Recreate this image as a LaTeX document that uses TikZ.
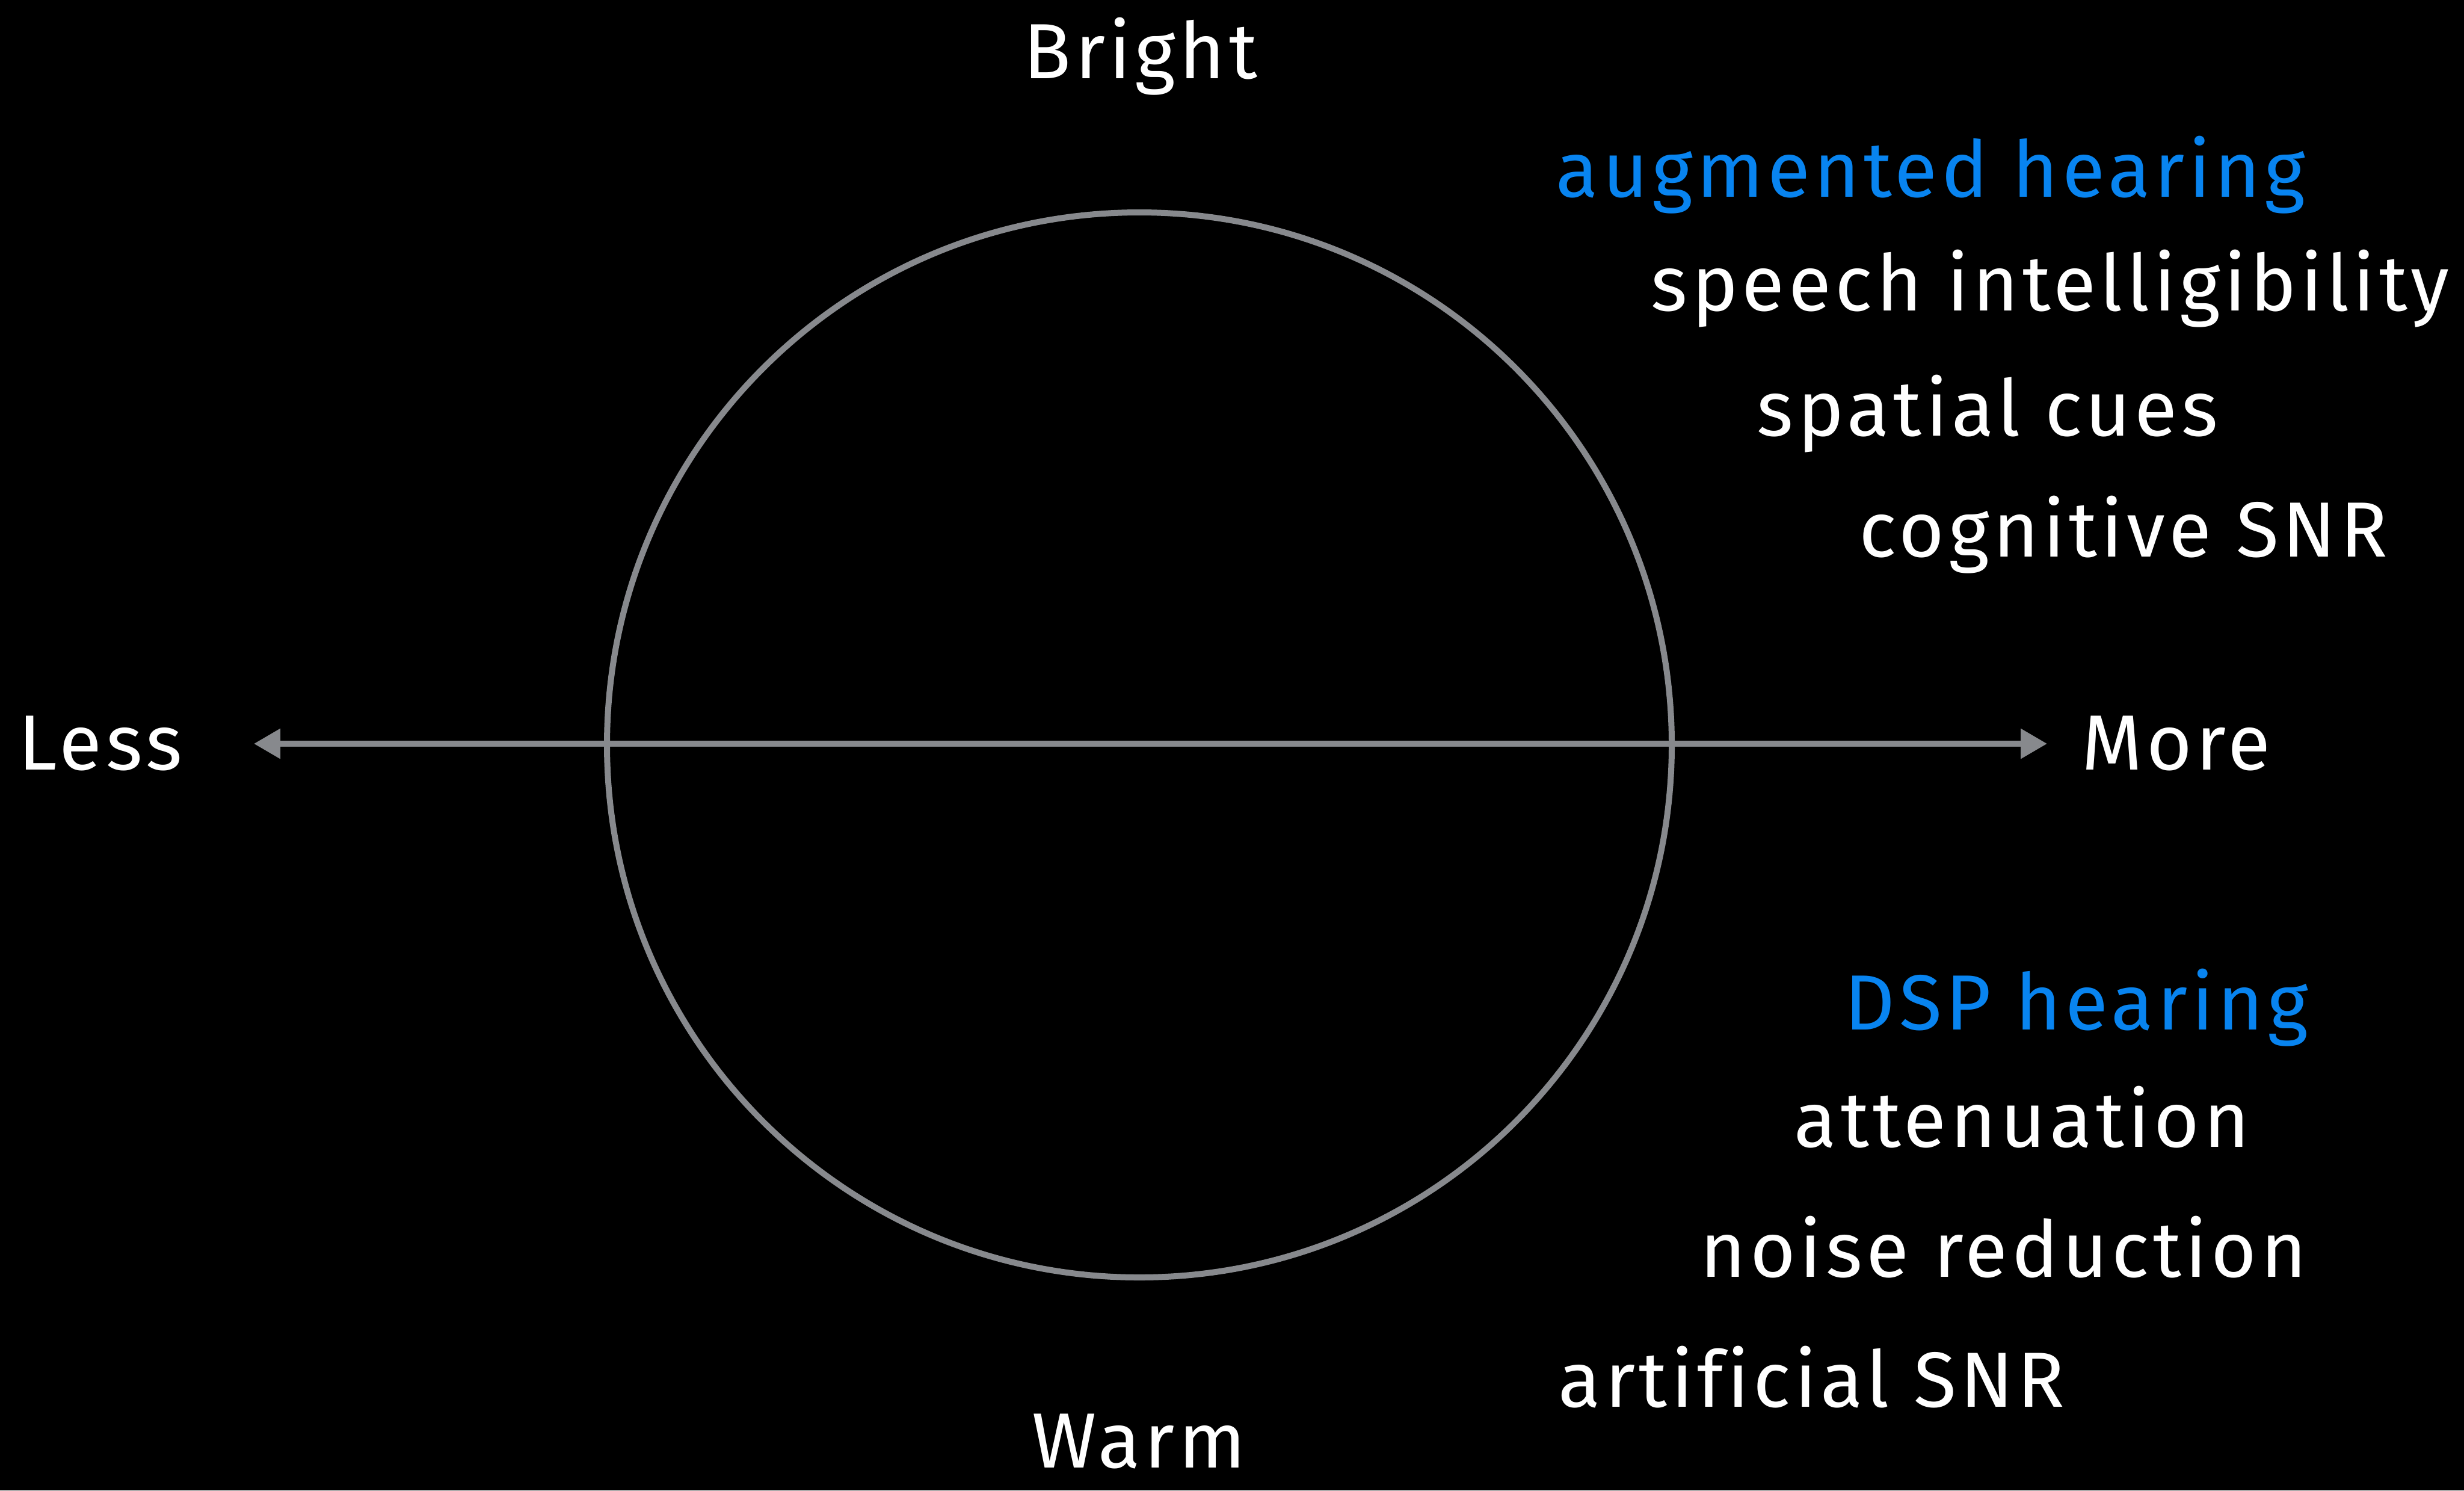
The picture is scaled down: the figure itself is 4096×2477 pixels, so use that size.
\documentclass[tikz,border=0pt]{standalone}
\usepackage{fontspec}
\setmainfont{Fira Sans}[LetterSpace=5,Ligatures=NoCommon]
\usetikzlibrary{arrows.meta}
\definecolor{axisgray}{RGB}{135,137,141}
\definecolor{hearblue}{RGB}{8,132,240}
\begin{document}
\begin{tikzpicture}[x=0.25pt,y=-0.25pt,
  lbl/.style={text=white,inner sep=0pt,font=\fontsize{32.5}{39}\selectfont},
  headlbl/.style={lbl,text=hearblue},
  ring/.style={circle,draw=axisgray,line width=2.5pt,inner sep=0pt,minimum size=442.5pt},
  axisline/.style={draw=axisgray,line width=2.4pt,{Triangle[length=11pt,width=12pt]}-{Triangle[length=11pt,width=12pt]}}]
\fill[black] (0,0) rectangle (4096,2477);
\useasboundingbox (0,0) rectangle (4096,2477);
\node[ring] (ring) at (1894,1238) {};
\coordinate (lefttip) at (422,1236);
\coordinate (righttip) at (3403,1236);
\draw[axisline] (lefttip) -- (righttip);
\node[lbl,anchor=base] (bright) at (1896,130) {Bright};
\node[lbl,anchor=base] (warm) at (1893,2439) {Warm};
\node[lbl,anchor=base west] (less) at (30,1279) {Less};
\node[lbl,anchor=base west] (more) at (3460,1279) {More};
\node[headlbl,anchor=base west] (aug) at (2586,327) {augmented hearing};
\node[lbl,anchor=base west] (speech) at (2744,516) {speech intelligibility};
\node[lbl,anchor=base west] (spatial) at (2920,724) {spatial cues};
\node[lbl,anchor=base west] (cog) at (3090,925) {cognitive SNR};
\node[headlbl,anchor=base west] (dsp) at (3066,1711) {DSP hearing};
\node[lbl,anchor=base west] (att) at (2982,1906) {attenuation};
\node[lbl,anchor=base west] (noise) at (2826,2122) {noise reduction};
\node[lbl,anchor=base west] (art) at (2590,2338) {artificial SNR};
\end{tikzpicture}
\end{document}
